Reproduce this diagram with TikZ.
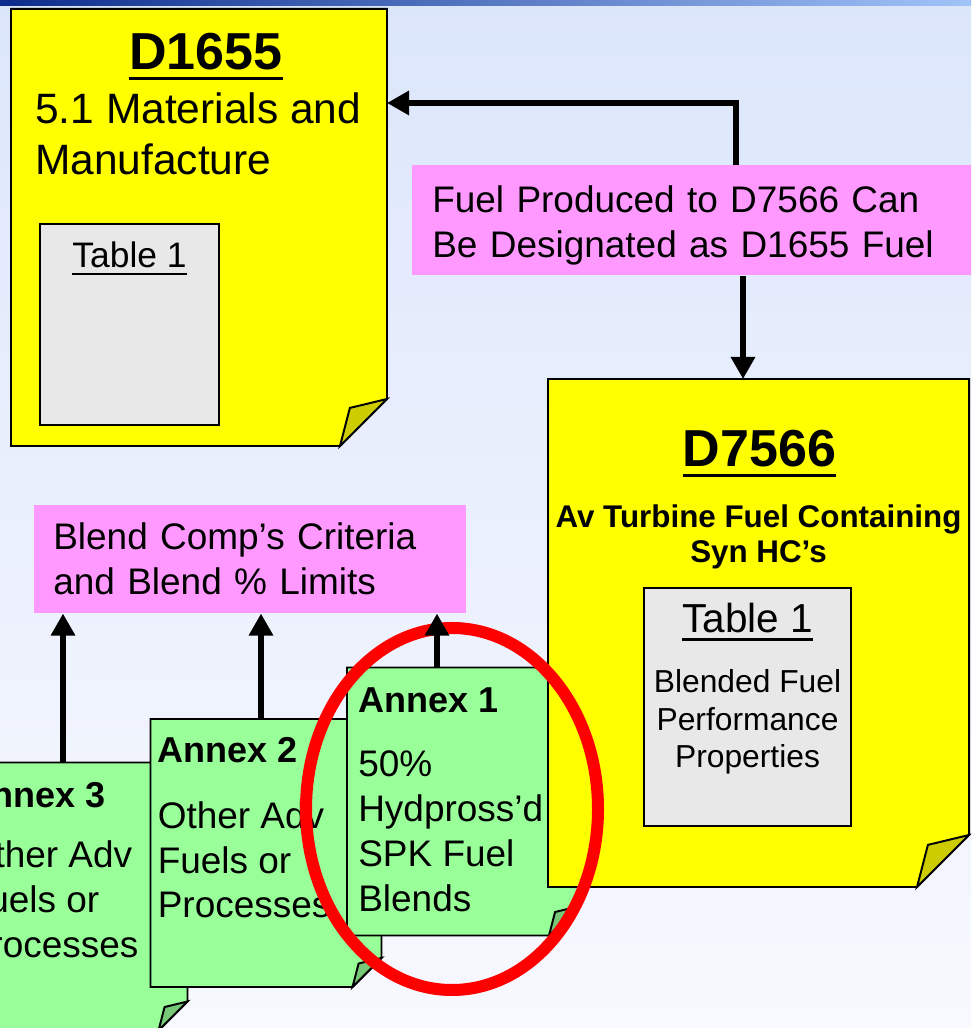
\documentclass[tikz,border=0pt]{standalone}
\usepackage{fontspec}
\setmainfont{Liberation Sans}
\usetikzlibrary{arrows.meta}
\usetikzlibrary{positioning}
\definecolor{paperyellow}{HTML}{FFFF00}
\definecolor{flapyellow}{HTML}{CCCC00}
\definecolor{papergreen}{HTML}{99FF99}
\definecolor{flapgreen}{HTML}{77C877}
\definecolor{calloutpink}{HTML}{FF99FF}
\definecolor{tablegrey}{HTML}{E8E8E8}
\definecolor{bgtop}{HTML}{DCE6FB}
\definecolor{bgbottom}{HTML}{F8F9FE}
\definecolor{bandleft}{HTML}{0B2C8C}
\definecolor{bandright}{HTML}{A2C3F9}

% underlined word with a heavier rule
\newsavebox{\ulinebox}
\newcommand{\ulword}[1]{\sbox{\ulinebox}{#1}%
  \rlap{\rule[-0.2em]{\wd\ulinebox}{0.07em}}\usebox{\ulinebox}}

% folded-corner outline of an empty paper node
\newcommand{\dogear}[4]{%
  \filldraw[edge, fill=#3] (#1.north west) -- (#1.north east)
    -- ([yshift=#2]#1.south east) -- ([xshift=-#2]#1.south east)
    -- (#1.south west) -- cycle;
  \filldraw[edge, fill=#4] ([yshift=#2]#1.south east)
    -- ([xshift=-0.79*#2, yshift=0.81*#2]#1.south east)
    -- ([xshift=-#2]#1.south east) -- cycle;}

\begin{document}
\begin{tikzpicture}[
    paper/.style={rectangle, inner sep=0pt, outer sep=0pt},
    annex/.style={paper, minimum width=5.775cm, minimum height=6.7cm},
    edge/.style={draw=black, line width=1.4pt},
    tablebox/.style={rectangle, draw=black, line width=1.6pt, fill=tablegrey,
      inner sep=0pt, outer sep=0pt},
    callout/.style={rectangle, fill=calloutpink, inner xsep=0.5cm,
      inner ysep=0pt, align=left, font=\fontsize{26.3}{32}\selectfont},
    doctitle/.style={inner sep=0pt, font=\fontsize{37}{44}\selectfont\bfseries},
    bodytxt/.style={inner sep=0pt, align=left, font=\fontsize{30.2}{36.3}\selectfont},
    subtitle/.style={inner sep=0pt, align=center,
      font=\fontsize{22.3}{25.6}\selectfont\bfseries},
    tabhead/.style={inner sep=0pt, font=\fontsize{28.8}{34}\selectfont},
    tabtxt/.style={inner sep=0pt, align=center, font=\fontsize{22.6}{27}\selectfont},
    annextitle/.style={inner sep=0pt, font=\fontsize{25.6}{32}\selectfont\bfseries},
    annextxt/.style={inner sep=0pt, align=left, font=\fontsize{26.3}{32}\selectfont},
    arrow/.style={-{Triangle[length=0.55cm, width=0.58cm]}, line width=0.15cm},
    highlight/.style={draw=red, line width=0.3cm},
  ]

  \useasboundingbox (0,0) rectangle (24.275,25.7);
  \clip (0,0) rectangle (24.275,25.7);

  % slide background
  \shade[top color=bgtop, bottom color=bgbottom] (0,0) rectangle (24.275,25.7);
  \shade[left color=bandleft, right color=bandright] (0,25.55) rectangle (24.275,25.7);

  % D1655
  \node[paper, minimum width=9.4cm, minimum height=10.925cm] (d1655) at (4.975,20.0125) {};
  \dogear{d1655}{1.175cm}{paperyellow}{flapyellow}
  \node[doctitle, anchor=base] at ([xshift=0.175cm, yshift=-1.525cm]d1655.north) {\ulword{D1655}};
  \node[bodytxt, anchor=base west] at ([xshift=0.6cm, yshift=-4.15cm]d1655.north west)
    {5.1 Materials and\\Manufacture};
  \node[tablebox, minimum width=4.475cm, minimum height=5.025cm, anchor=north west] (tab1655)
    at ([xshift=0.725cm, yshift=-5.375cm]d1655.north west) {};
  \node[tabhead, font=\fontsize{25.2}{30}\selectfont, anchor=base] at ([yshift=-1.1cm]tab1655.north)
    {\ulword{Table 1}};

  % link note
  \node[callout, text width=13.075cm, minimum height=2.75cm, anchor=north west] (produced)
    at (10.3,21.575) {\rule{0pt}{0.95cm}Fuel Produced to D7566 Can\\Be Designated as D1655 Fuel};

  % Annexes
  \node[annex] (annexthree) at (1.8,3.2875) {};
  \dogear{annexthree}{0.725cm}{papergreen}{flapgreen}
  \node[annextitle, anchor=base west] at ([xshift=0.225cm, yshift=-1.125cm]annexthree.north west) {Annex 3};
  \node[annextxt, anchor=base west] at ([xshift=0.225cm, yshift=-4.875cm]annexthree.north west)
    {Other Adv\\Fuels or\\Processes};

  \node[annex] (annextwo) at (6.65,4.375) {};
  \dogear{annextwo}{0.725cm}{papergreen}{flapgreen}
  \node[annextitle, anchor=base west] at ([xshift=0.175cm, yshift=-1.1cm]annextwo.north west) {Annex 2};
  \node[annextxt, anchor=base west] at ([xshift=0.175cm, yshift=-4.975cm]annextwo.north west)
    {Other Adv\\Fuels or\\Processes};

  \node[annex] (annexone) at (11.5625,5.6625) {};
  \dogear{annexone}{0.725cm}{papergreen}{flapgreen}
  \node[annextitle, anchor=base west] at ([xshift=0.275cm, yshift=-1.125cm]annexone.north west) {Annex 1};
  \node[annextxt, anchor=base west] at ([xshift=0.275cm, yshift=-6.1cm]annexone.north west)
    {50\%\\Hydpross’d\\SPK Fuel\\Blends};

  % D7566
  \node[paper, minimum width=10.525cm, minimum height=12.7cm] (d7566) at (18.9625,9.875) {};
  \dogear{d7566}{1.3cm}{paperyellow}{flapyellow}
  \node[doctitle, anchor=base] at ([xshift=0.025cm, yshift=-2.2cm]d7566.north) {\ulword{D7566}};
  \node[subtitle, anchor=base] at ([yshift=-4.6cm]d7566.north)
    {Av Turbine Fuel Containing\\Syn HC’s};
  \node[tablebox, minimum width=5.175cm, minimum height=5.95cm, anchor=north west] (tab7566)
    at ([xshift=2.4cm, yshift=-5.225cm]d7566.north west) {};
  \node[tabhead, anchor=base] at ([yshift=-1.125cm]tab7566.north) {\ulword{Table 1}};
  \node[tabtxt, anchor=base] at ([yshift=-4.5cm]tab7566.north)
    {Blended Fuel\\Performance\\Properties};

  % criteria note
  \node[callout, text width=9.85cm, inner xsep=0.475cm, minimum height=2.7cm, anchor=north west] (blend)
    at (0.85,13.075) {Blend Comp’s Criteria\\and Blend \% Limits};

  % focus ring
  \draw[highlight] (11.3,5.475) ellipse [x radius=3.65, y radius=4.525];

  % Arrows
  \coordinate (bend) at (18.4,23.125);
  \coordinate (drop) at (18.575,0);
  \coordinate (a3) at ([xshift=-0.225cm]annexthree.north);
  \coordinate (a2) at ([xshift=-0.125cm]annextwo.north);
  \coordinate (a1) at ([xshift=-0.6375cm]annexone.north);
  \draw[arrow] (bend |- produced.north) -- (bend) -- (bend -| d1655.east);
  \draw[arrow] (drop |- produced.south) -- (drop |- d7566.north);
  \draw[arrow] (a3) -- (a3 |- blend.south);
  \draw[arrow] (a2) -- (a2 |- blend.south);
  \draw[arrow] (a1) -- (a1 |- blend.south);

\end{tikzpicture}
\end{document}
